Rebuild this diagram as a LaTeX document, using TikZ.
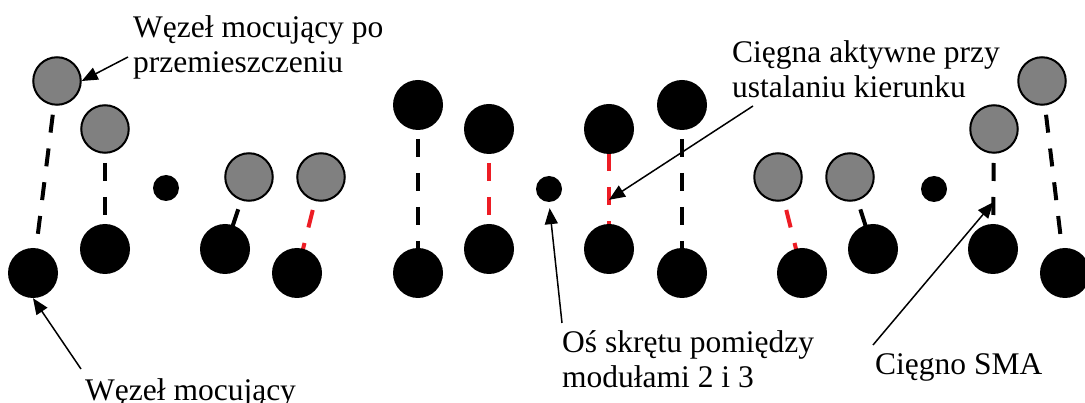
\documentclass[tikz,border=0pt]{standalone}
\usepackage{fontspec}
\setmainfont{Liberation Serif}
\usetikzlibrary{arrows.meta,backgrounds,calc}
\definecolor{cordred}{RGB}{237,28,36}
\definecolor{nodegray}{RGB}{128,128,128}
\tikzset{
  fixed/.style={circle,fill=black,minimum size=50pt,inner sep=0pt},
  moved/.style={circle,draw=black,line width=2pt,fill=nodegray,minimum size=47.5pt,inner sep=0pt},
  pivot/.style={circle,fill=black,minimum size=26pt,inner sep=0pt},
  cord/.style={line width=4pt,dash pattern=on 18pt off 16pt},
  idle/.style={cord,draw=black},
  active/.style={cord,draw=cordred},
  note/.style={anchor=base west,inner sep=0pt,align=left,font=\fontsize{31.5}{35.5}\selectfont},
  pointer/.style={line width=1.5pt,-{Triangle[length=16pt,width=13pt]}}
}
\begin{document}
\begin{tikzpicture}[x=1pt,y=-1pt]
\useasboundingbox (0,0) rectangle (1085,403);

% left module pair: nodes after displacement (gray) and mounting nodes (black)
\node[moved] (a1) at (57,81) {};
\node[fixed] (b1) at (33,273) {};
\node[moved] (a2) at (105,129) {};
\node[fixed] (b2) at (105,249) {};
\node[pivot] (p1) at (166,188) {};
\node[moved] (a3) at (249,177) {};
\node[fixed] (b3) at (225,249) {};
\node[moved] (a4) at (321,177) {};
\node[fixed] (b4) at (297,273) {};

% middle module pair
\node[fixed] (c1) at (418,105) {};
\node[fixed] (d1) at (418,273) {};
\node[fixed] (c2) at (489,129) {};
\node[fixed] (d2) at (489,249) {};
\node[pivot] (p2) at (549,189) {};
\node[fixed] (c3) at (609,129) {};
\node[fixed] (d3) at (609,249) {};
\node[fixed] (c4) at (682,105) {};
\node[fixed] (d4) at (682,273) {};

% right module pair
\node[moved] (e1) at (778,177) {};
\node[fixed] (f1) at (802,273) {};
\node[moved] (e2) at (850,177) {};
\node[fixed] (f2) at (873,249) {};
\node[pivot] (p3) at (934,189) {};
\node[moved] (e3) at (994,129) {};
\node[fixed] (f3) at (993,249) {};
\node[moved] (e4) at (1042,81) {};
\node[fixed] (f4) at (1065,273) {};

% SMA tendons, drawn behind the nodes
\begin{scope}[on background layer]
  \draw[idle]   (a1.center) -- (b1.center);
  \draw[idle]   (a2.center) -- (b2.center);
  \draw[idle]   (a3.center) -- (b3.center);
  \draw[active] (a4.center) -- (b4.center);
  \draw[idle]   (c1.center) -- (d1.center);
  \draw[active] (c2.center) -- (d2.center);
  \draw[active,dash phase=10pt] (c3.center) -- (d3.center);
  \draw[idle]   (c4.center) -- (d4.center);
  \draw[active] (e1.center) -- (f1.center);
  \draw[idle]   (e2.center) -- (f2.center);
  \draw[idle]   (e3.center) -- (f3.center);
  \draw[idle]   (e4.center) -- (f4.center);
\end{scope}

% labels (base anchor of a two-line note sits on its last line)
\node[note] (n1) at (133,73) {Węzeł mocujący po\\przemieszczeniu};
\node[note] (n2) at (85,400) {Węzeł mocujący};
\node[note] (n3) at (732,98) {Cięgna aktywne przy\\ustalaniu kierunku};
\node[note] (n4) at (562,388) {Oś skrętu pomiędzy\\modułami 2 i 3};
\node[note] (n5) at (875,375) {Cięgno SMA};

% pointers
\coordinate (t1) at (128,57);
\coordinate (t2) at (81,369);
\coordinate (t3) at (562,323);
\coordinate (t4) at (753,106);
\coordinate (t5) at (873,345);
\draw[pointer] (t1) -- (a1.east);
\draw[pointer] (t2) -- (b1.south);
\draw[pointer,shorten >=6pt] (t3) -- (p2.south);
\draw[pointer] (t4) -- ($(c3)!0.59!(d3)$);
\draw[pointer] (t5) -- ($(e3)!0.61!(f3)$);
\end{tikzpicture}
\end{document}
